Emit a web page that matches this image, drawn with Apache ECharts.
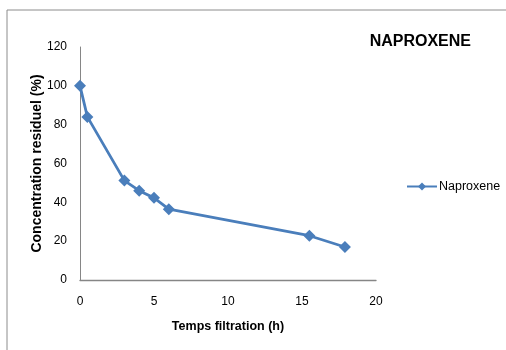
<!DOCTYPE html>
<html>
<head>
<meta charset="utf-8">
<script src="https://cdn.jsdelivr.net/npm/echarts@6/dist/echarts.min.js"></script>
<style>
  html, body { margin: 0; padding: 0; background: #fff; }
  #main { width: 506px; height: 350px; }
</style>
</head>
<body>
<div id="main"></div>
<script>
// temps (h) et concentration residuelle (%)
var hours = [0, 0.5, 3, 4, 5, 6, 15.5, 17.9];
var naproxene = [100, 84, 51.2, 46, 42.3, 36.5, 22.8, 17];
var xTicks = [0, 5, 10, 15, 20];
var yTicks = [0, 20, 40, 60, 80, 100, 120];

var points = hours.map(function (h, i) { return [h, naproxene[i]]; });

var myChart = echarts.init(document.getElementById('main'));
myChart.setOption({
    animation: false,
    textStyle: { fontFamily: 'Liberation Sans, sans-serif' },
    title: {
        text: 'NAPROXENE',
        right: 30,
        top: 29,
        textStyle: { fontSize: 16, fontWeight: 'bold', color: '#000' }
    },
    graphic: [{
        type: 'rect',
        shape: { x: 7, y: 10, width: 560, height: 400 },
        style: { fill: 'none', stroke: '#8c8c8c', lineWidth: 1 },
        silent: true
    }],
    legend: {
        data: ['Naproxene'],
        left: 401,
        top: 175,
        itemWidth: 30,
        itemHeight: 10,
        itemGap: 2,
        textStyle: { fontSize: 12.5, color: '#000', padding: [0, 0, 0, -3] }
    },
    grid: { left: 80, right: 130, top: 47, bottom: 70 },
    xAxis: {
        type: 'value',
        min: xTicks[0],
        max: xTicks[xTicks.length - 1],
        interval: 5,
        name: 'Temps filtration (h)',
        nameLocation: 'middle',
        nameGap: 40,
        nameMoveOverlap: false,
        nameTextStyle: { fontWeight: 'bold', fontSize: 12.5, color: '#000' },
        axisLine: { lineStyle: { color: '#868686', width: 1.3 } },
        axisTick: { show: false },
        splitLine: { show: false },
        axisLabel: { color: '#000', fontSize: 12, margin: 16 }
    },
    yAxis: {
        type: 'value',
        min: yTicks[0],
        max: yTicks[yTicks.length - 1],
        interval: 20,
        name: 'Concentration residuel (%)',
        nameLocation: 'middle',
        nameGap: 36,
        nameMoveOverlap: false,
        nameTextStyle: { fontWeight: 'bold', fontSize: 14, color: '#000' },
        axisLine: { show: true, lineStyle: { color: '#868686', width: 1 } },
        axisTick: { show: false },
        splitLine: { show: false },
        axisLabel: { color: '#000', fontSize: 12, margin: 13 }
    },
    series: [{
        name: 'Naproxene',
        type: 'line',
        data: points,
        symbol: 'diamond',
        symbolSize: 12,
        showAllSymbol: true,
        lineStyle: { color: '#4a7ebb', width: 2.8 },
        itemStyle: { color: '#4a7ebb' }
    }]
});
</script>
</body>
</html>
